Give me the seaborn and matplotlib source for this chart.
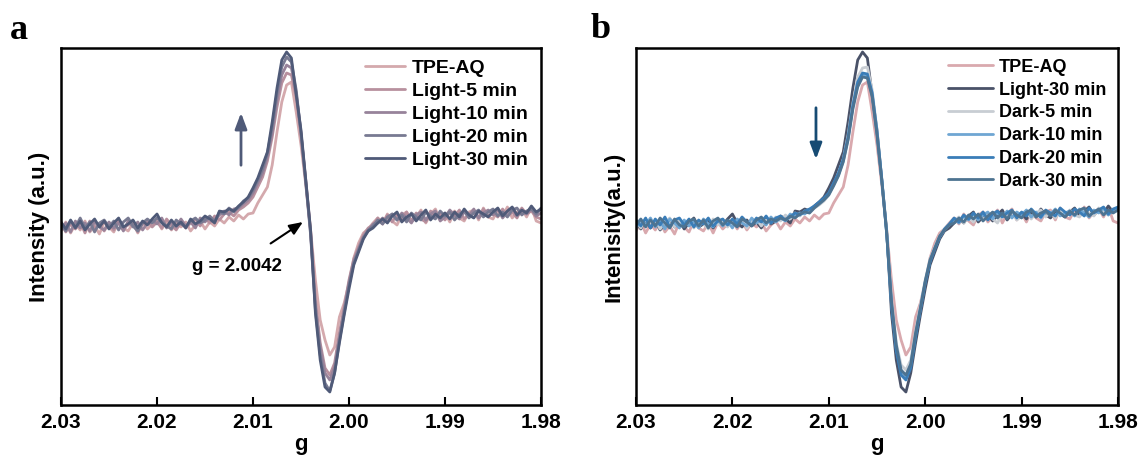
import numpy as np
import pandas as pd
import matplotlib
matplotlib.use("Agg")
import matplotlib.pyplot as plt
import seaborn as sns

# ---------------- data ----------------
g_values = np.round(np.linspace(2.030, 1.980, 101), 4)  # g axis grid (step 0.0005)

tpe_aq = [-6, 3, -8, 1, -5, 4, -7, -1, -9, 3,
          -2, -7, 4, -3, -6, 2, -8, 3, -4, 1,
          5, -4, 4, -5, 2, -2, 3, -6, 0, 4,
          -4, 3, -1, 6, 2, 8, 4, 10, 6, 11,
          12, 22, 30, 38, 60, 93, 123, 140, 143, 113,
          80, 40, -5, -55, -95, -115, -130, -122, -92, -78,
          -58, -33, -18, -8, -4, 2, 7, 1, 11, 4,
          0, 10, 13, 3, 8, 15, 2, 11, 16, 5,
          12, 3, 14, 7, 4, 13, 15, 5, 17, 8,
          6, 15, 9, 18, 7, 13, 16, 8, 18, 4,
          2]
light_5 = [2, -7, 1, -4, 3, -8, 4, -3, 1, -6,
           2, -5, 6, -3, 0, 4, -7, 1, 5, -2,
           3, -3, 6, 0, -5, 3, -3, 2, 6, -1,
           7, 2, 9, 5, 11, 13, 9, 15, 18, 22,
           28, 38, 48, 64, 88, 118, 142, 152, 150, 128,
           90, 44, -6, -75, -118, -143, -150, -138, -108, -82,
           -55, -34, -22, -10, -3, 0, 7, 1, 10, 3,
           11, 5, 13, 4, 12, 6, 3, 14, 8, 11,
           5, 13, 9, 15, 6, 11, 14, 7, 16, 9,
           12, 8, 16, 9, 13, 7, 17, 11, 14, 8,
           6]
light_10 = [-5, 2, -7, 4, -3, 2, -6, 3, -2, -5,
            3, -3, 2, -6, 4, -2, 3, -5, 2, 5,
            1, 7, -3, 3, -2, 6, -1, 3, -3, 7,
            3, 8, 5, 10, 14, 10, 16, 17, 21, 25,
            32, 42, 52, 68, 92, 125, 150, 160, 157, 132,
            92, 44, -8, -80, -122, -148, -155, -142, -112, -85,
            -58, -36, -24, -12, -6, 1, 2, 7, 3, 11,
            5, 12, 7, 2, 10, 13, 5, 11, 14, 4,
            8, 15, 10, 6, 13, 9, 16, 7, 12, 15,
            10, 16, 7, 13, 17, 9, 14, 11, 16, 9,
            12]
light_20 = [0, -6, 4, -2, 7, -3, 3, -7, 2, 5,
            -2, 4, -5, 3, 7, -1, -6, 2, 6, 2,
            7, 3, -1, -4, 5, 1, -2, 4, 7, 2,
            5, 9, 3, 13, 11, 17, 13, 18, 24, 27,
            35, 45, 56, 72, 98, 132, 158, 168, 163, 135,
            92, 42, -10, -85, -130, -158, -166, -148, -116, -88,
            -60, -38, -25, -13, -5, -1, 5, 1, 8, 11,
            5, 10, 3, 12, 8, 5, 13, 9, 6, 14,
            9, 13, 5, 11, 14, 7, 12, 15, 8, 13,
            16, 9, 13, 8, 15, 17, 10, 14, 16, 11,
            17]
light_30 = [3, -4, 5, -3, 4, -5, 1, 6, -2, 4,
            -4, 2, 7, -2, 1, 5, -3, 4, 0, 6,
            11, 2, -2, 5, -1, 3, -3, 6, 1, 4,
            9, 6, 2, 14, 13, 16, 14, 19, 23, 28,
            37, 47, 60, 73, 103, 137, 165, 173, 167, 130,
            95, 45, -5, -88, -135, -162, -167, -148, -118, -90,
            -64, -40, -27, -14, -6, -3, 2, 6, 2, 9,
            13, 3, 8, 11, 4, 10, 15, 5, 11, 7,
            12, 6, 13, 8, 16, 10, 7, 14, 11, 8,
            13, 17, 9, 14, 18, 10, 15, 12, 19, 13,
            16]
dark_5 = [4, -3, 6, -1, 5, -4, 2, 7, -2, 4,
          -1, 5, -3, 4, 1, -4, 6, 0, 3, -2,
          5, 1, 7, -3, 3, 6, -1, 5, 2, 8,
          4, 10, 6, 12, 9, 14, 12, 17, 20, 24,
          30, 40, 50, 66, 90, 122, 148, 157, 158, 135,
          95, 45, -6, -72, -118, -140, -145, -135, -106, -80,
          -55, -34, -22, -11, -4, 1, 4, 8, 2, 9,
          3, 10, 5, 12, 6, 2, 11, 8, 13, 5,
          9, 13, 6, 12, 15, 8, 13, 7, 14, 10,
          15, 10, 8, 16, 12, 9, 17, 13, 10, 16,
          14]
dark_10 = [-3, 5, 0, 7, -2, 4, -4, 6, 2, -3,
           5, -1, 4, -3, 6, 1, -2, 5, -1, 4,
           -3, 6, 2, -1, 7, 2, 5, 0, 8, 3,
           7, 4, 11, 8, 12, 11, 15, 18, 22, 26,
           31, 41, 50, 64, 86, 118, 140, 150, 148, 130,
           92, 46, -8, -78, -124, -146, -152, -140, -110, -84,
           -57, -36, -23, -12, -5, 0, 6, 2, 9, 5,
           11, 5, 10, 13, 6, 12, 8, 14, 7, 13,
           10, 15, 8, 13, 7, 14, 11, 16, 9, 12,
           14, 9, 16, 12, 8, 15, 12, 17, 10, 15,
           16]
dark_20 = [5, -1, 7, -3, 6, 0, 8, -2, 5, 7,
           0, 6, -2, 5, 1, 7, -1, 4, 6, 0,
           6, 1, 8, 3, 0, 7, 3, 9, 2, 7,
           9, 5, 8, 12, 10, 14, 16, 19, 23, 27,
           32, 42, 52, 66, 88, 120, 143, 152, 151, 132,
           93, 45, -8, -80, -126, -150, -155, -143, -112, -85,
           -58, -37, -24, -12, -4, 1, 7, 3, 10, 6,
           12, 7, 13, 5, 11, 14, 8, 12, 15, 7,
           13, 9, 16, 11, 8, 15, 12, 9, 17, 13,
           10, 16, 13, 9, 17, 12, 15, 18, 11, 16,
           18]
dark_30 = [0, 6, -2, 5, -1, 7, 2, -3, 6, 0,
           -2, 4, 6, -1, 5, -3, 4, 7, 0, 5,
           2, -2, 6, 3, -1, 5, 8, 2, 6, 4,
           7, 5, 9, 7, 11, 13, 12, 17, 21, 25,
           30, 39, 49, 63, 85, 116, 138, 148, 147, 128,
           90, 44, -8, -76, -120, -145, -150, -139, -108, -83,
           -56, -35, -23, -11, -5, 0, 2, 7, 3, 10,
           6, 11, 4, 9, 13, 7, 12, 6, 14, 10,
           7, 13, 15, 8, 12, 14, 9, 15, 12, 8,
           14, 10, 15, 17, 9, 13, 16, 10, 15, 12,
           15]

labels_a = ["TPE-AQ", "Light-5 min", "Light-10 min", "Light-20 min", "Light-30 min"]
series_a = [tpe_aq, light_5, light_10, light_20, light_30]
colors_a = ["#D4A9AD", "#B8909E", "#97839A", "#787A92", "#4F5A78"]

labels_b = ["TPE-AQ", "Light-30 min", "Dark-5 min", "Dark-10 min", "Dark-20 min", "Dark-30 min"]
series_b = [tpe_aq, light_30, dark_5, dark_10, dark_20, dark_30]
colors_b = ["#D9A9AE", "#4A5268", "#C8CDD3", "#6FA6D3", "#3A7DB8", "#4D7391"]

xticks = [2.03, 2.02, 2.01, 2.00, 1.99, 1.98]
xticklabels = ["2.03", "2.02", "2.01", "2.00", "1.99", "1.98"]


def long_df(labels, series):
    frames = []
    for lab, ys in zip(labels, series):
        frames.append(pd.DataFrame({"g": g_values, "I": ys, "sample": lab}))
    return pd.concat(frames, ignore_index=True)


# ---------------- style ----------------
sns.set_theme(style="white")
plt.rcParams["font.family"] = ["Liberation Sans", "DejaVu Sans"]
plt.rcParams["font.weight"] = "bold"
plt.rcParams["text.color"] = "black"
plt.rcParams["axes.labelcolor"] = "black"
plt.rcParams["xtick.color"] = "black"
plt.rcParams["ytick.color"] = "black"

fig = plt.figure(figsize=(11.43, 4.57), dpi=100)
ax_a = fig.add_axes([61 / 1143, 1 - 405 / 457, 480 / 1143, 357 / 457])
ax_b = fig.add_axes([636 / 1143, 1 - 405 / 457, 482 / 1143, 357 / 457])


def draw(ax, labels, series, colors, ylabel, leg_x, leg_y, fs, handlelen, labelspacing):
    df = long_df(labels, series)
    sns.lineplot(data=df, x="g", y="I", hue="sample", hue_order=labels,
                 palette=dict(zip(labels, colors)), sort=False,
                 estimator=None, linewidth=2.0, ax=ax)
    ax.set_xlim(2.03, 1.98)
    ax.set_ylim(-180, 177)
    ax.set_xticks(xticks)
    ax.set_xticklabels(xticklabels, fontsize=15, fontweight="bold", color="black")
    ax.set_yticks([])
    ax.tick_params(axis="x", direction="in", length=6, width=1.5, bottom=True,
                   pad=6, colors="black")
    for s in ax.spines.values():
        s.set_linewidth(1.8)
        s.set_color("black")
    ax.set_xlabel("g", fontsize=16, fontweight="bold", labelpad=1, color="black")
    ax.set_ylabel(ylabel, fontsize=16, fontweight="bold", labelpad=8, color="black")
    h, l = ax.get_legend_handles_labels()
    leg = ax.legend(h, l, loc="upper left", bbox_to_anchor=(leg_x, leg_y),
                    frameon=False, prop={"weight": "bold", "size": fs},
                    handlelength=handlelen, handletextpad=0.35,
                    labelspacing=labelspacing, borderaxespad=0.0)
    for t in leg.get_texts():
        t.set_color("black")


draw(ax_a, labels_a, series_a, colors_a, "Intensity (a.u.)", 0.617, 0.99, 14, 2.05, 0.28)
draw(ax_b, labels_b, series_b, colors_b, "Intenisity(a.u.)", 0.633, 0.99, 13, 2.45, 0.32)

# annotations panel a
ax_a.annotate("", xy=(2.01125, 115), xytext=(2.01125, 57),
              arrowprops=dict(arrowstyle="-|>,head_length=0.8,head_width=0.3",
                              color="#4F5A78", lw=2))
ax_a.annotate("g = 2.0042", xy=(2.0048, 3), xytext=(2.0117, -41),
              ha="center", va="center", fontsize=13.5, fontweight="bold",
              color="black",
              arrowprops=dict(arrowstyle="-|>,head_length=0.6,head_width=0.25",
                              color="black", lw=1.5, shrinkA=14, shrinkB=0))
# annotation panel b
ax_b.annotate("", xy=(2.01133, 63), xytext=(2.01133, 120),
              arrowprops=dict(arrowstyle="-|>,head_length=0.8,head_width=0.3",
                              color="#174B73", lw=2))

fig.text(10 / 1143, 1 - 39 / 457, "a", fontsize=26, fontweight="bold", color="black",
         family=["Liberation Serif", "DejaVu Serif"], va="baseline")
fig.text(591 / 1143, 1 - 38 / 457, "b", fontsize=26, fontweight="bold", color="black",
         family=["Liberation Serif", "DejaVu Serif"], va="baseline")

fig.savefig("out.png", dpi=100)
